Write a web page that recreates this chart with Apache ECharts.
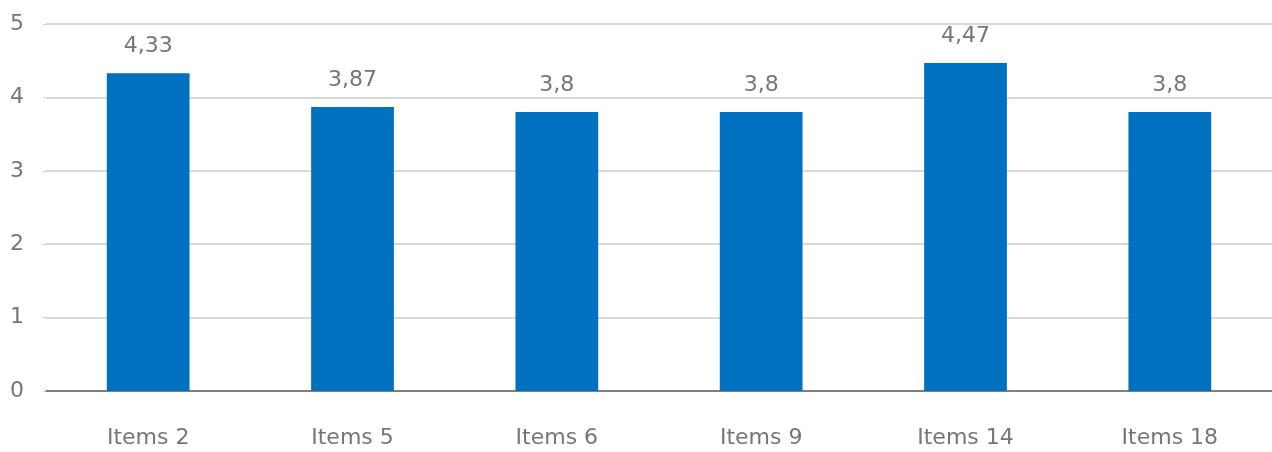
<!DOCTYPE html>
<html>
<head>
<meta charset="utf-8">
<script src="https://cdn.jsdelivr.net/npm/echarts@6/dist/echarts.min.js"></script>
<style>
  html, body { margin: 0; padding: 0; background: #ffffff; }
  #chart { width: 1272px; height: 452px; }
</style>
</head>
<body>
<div id="chart"></div>
<script>
// Average score per item
const categories = ['Items 2', 'Items 5', 'Items 6', 'Items 9', 'Items 14', 'Items 18'];
const scores = [4.33, 3.87, 3.8, 3.8, 4.47, 3.8];
const yTicks = [0, 1, 2, 3, 4, 5];

const FONT = 'DejaVu Sans';
const TEXT = '#767676';
const SIZE = 22;

const chart = echarts.init(document.getElementById('chart'), null, { renderer: 'canvas' });

chart.setOption({
  animation: false,
  backgroundColor: '#ffffff',
  grid: { left: 46, top: 24, width: 1231, height: 367, containLabel: false },
  xAxis: {
    type: 'category',
    data: categories,
    axisLine: { show: true, lineStyle: { color: '#7f7f7f', width: 2 } },
    axisTick: { show: false },
    axisLabel: { color: TEXT, fontFamily: FONT, fontSize: SIZE, margin: 36 }
  },
  yAxis: {
    type: 'value',
    min: yTicks[0],
    max: yTicks[yTicks.length - 1],
    interval: 1,
    axisLine: { show: false },
    axisTick: { show: true, length: 3, lineStyle: { color: '#d0d0d0' } },
    splitLine: { show: true, lineStyle: { color: '#d9d9d9', width: 2 } },
    axisLabel: { color: TEXT, fontFamily: FONT, fontSize: SIZE, margin: 22 }
  },
  series: [{
    type: 'bar',
    data: scores,
    barWidth: '40.5%',
    itemStyle: { color: '#0070c0' },
    label: {
      show: true,
      position: 'top',
      distance: 16,
      color: TEXT,
      fontFamily: FONT,
      fontSize: SIZE,
      formatter: p => String(p.value).replace('.', ',')
    }
  }]
});
</script>
</body>
</html>
